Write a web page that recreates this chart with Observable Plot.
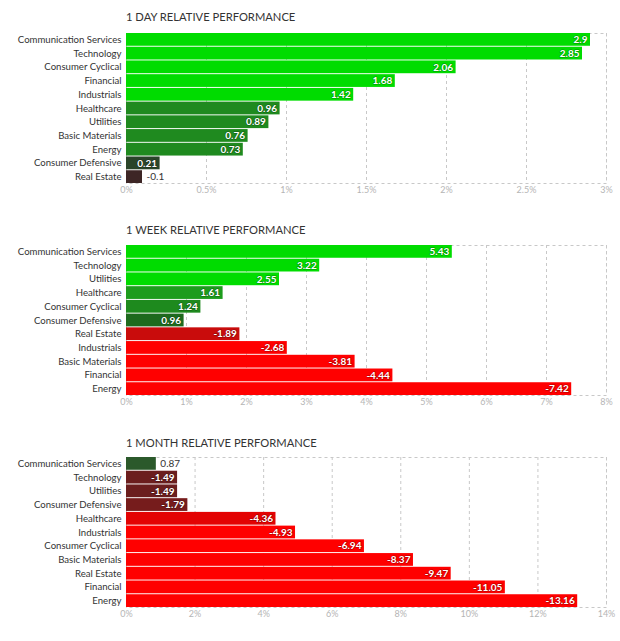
<!DOCTYPE html>
<html><head><meta charset="utf-8">
<script src="https://cdn.jsdelivr.net/npm/d3@7"></script>
<script src="https://cdn.jsdelivr.net/npm/@observablehq/plot@0.6"></script>
<style>
body{margin:0;background:#fff;font-family:Lato,sans-serif;}
#root{position:relative;width:620px;height:641px;overflow:hidden;}
.title{position:absolute;left:126px;font-family:Lato,sans-serif;font-size:11.2px;line-height:13px;color:#333;white-space:nowrap;}
.panel{position:absolute;left:0;}
.panel svg{display:block;}
</style></head><body><div id="root"></div>
<script>
// ---- data ----
const dayTitle = "1 DAY RELATIVE PERFORMANCE";
const daySectors = ["Communication Services","Technology","Consumer Cyclical","Financial","Industrials","Healthcare","Utilities","Basic Materials","Energy","Consumer Defensive","Real Estate"];
const dayValues = [2.9, 2.85, 2.06, 1.68, 1.42, 0.96, 0.89, 0.76, 0.73, 0.21, -0.1];
const dayTicks = [0, 0.5, 1, 1.5, 2, 2.5, 3];

const weekTitle = "1 WEEK RELATIVE PERFORMANCE";
const weekSectors = ["Communication Services","Technology","Utilities","Healthcare","Consumer Cyclical","Consumer Defensive","Real Estate","Industrials","Basic Materials","Financial","Energy"];
const weekValues = [5.43, 3.22, 2.55, 1.61, 1.24, 0.96, -1.89, -2.68, -3.81, -4.44, -7.42];
const weekTicks = [0, 1, 2, 3, 4, 5, 6, 7, 8];

const monthTitle = "1 MONTH RELATIVE PERFORMANCE";
const monthSectors = ["Communication Services","Technology","Utilities","Consumer Defensive","Healthcare","Industrials","Consumer Cyclical","Basic Materials","Real Estate","Financial","Energy"];
const monthValues = [0.87, -1.49, -1.49, -1.79, -4.36, -4.93, -6.94, -8.37, -9.47, -11.05, -13.16];
const monthTicks = [0, 2, 4, 6, 8, 10, 12, 14];

// colour ramps (value -> colour) per timeframe
const dayColorDomain = [-1, -0.1, 0, 0.21, 0.7, 1.0, 1.4];
const dayColorRange  = ["#ff0000", "#3d2626", "#333333", "#2a452a", "#1f8a1f", "#1f8a1f", "#00dc00"];
const weekColorDomain = [-2.6, -1.89, 0, 0.96, 1.24, 1.61, 2.5];
const weekColorRange  = ["#ff0000", "#c90c0c", "#333333", "#1e6a1e", "#1e8a1e", "#1d9c1d", "#00dc00"];
const monthColorDomain = [-4.9, -4.36, -1.79, -1.49, 0, 0.87, 2.5];
const monthColorRange  = ["#ff0000", "#e30303", "#761c1c", "#6b1e1e", "#333333", "#2b592b", "#00dc00"];

const panels = [
  {title: dayTitle, sectors: daySectors, values: dayValues, ticks: dayTicks, cd: dayColorDomain, cr: dayColorRange, top: 32, titleTop: 10},
  {title: weekTitle, sectors: weekSectors, values: weekValues, ticks: weekTicks, cd: weekColorDomain, cr: weekColorRange, top: 244, titleTop: 223},
  {title: monthTitle, sectors: monthSectors, values: monthValues, ticks: monthTicks, cd: monthColorDomain, cr: monthColorRange, top: 456, titleTop: 436}
];

const root = document.getElementById("root");
const W = 620, ML = 126, MR = 14, MT = 1, MB = 18, PH = 150;

for (const p of panels) {
  const data = p.sectors.map((s, i) => ({sector: s, value: p.values[i], abs: Math.abs(p.values[i])}));
  const xmax = p.ticks[p.ticks.length - 1];
  const pxw = d => d.abs / xmax * (W - ML - MR);
  const inside = data.filter(d => pxw(d) > 32);
  const outside = data.filter(d => pxw(d) <= 32);

  const t = document.createElement("div");
  t.className = "title";
  t.style.top = p.titleTop + "px";
  t.textContent = p.title;
  root.appendChild(t);

  const chart = Plot.plot({
    width: W, height: MT + PH + MB,
    marginLeft: ML, marginRight: MR, marginTop: MT, marginBottom: MB,
    style: {fontFamily: "Lato, sans-serif", fontSize: "10px", background: "white"},
    x: {domain: [0, xmax]},
    y: {domain: p.sectors, paddingInner: 0.07, paddingOuter: 0, round: false},
    color: {type: "linear", domain: p.cd, range: p.cr, clamp: true, interpolate: "rgb"},
    marks: [
      Plot.gridX(p.ticks, {stroke: "#c8c8c8", strokeOpacity: 1, strokeDasharray: "3,3"}),
      Plot.frame({stroke: "#c8c8c8", strokeDasharray: "3,3"}),
      Plot.barX(data, {x: "abs", y: "sector", fill: "value"}),
      Plot.text(inside, {x: "abs", y: "sector", text: d => String(d.value), textAnchor: "end", dx: -3,
        fill: "white", fontWeight: "bold", fontSize: 10, stroke: "#000", strokeOpacity: 0.25, strokeWidth: 1.5}),
      Plot.text(outside, {x: "abs", y: "sector", text: d => String(d.value), textAnchor: "start", dx: 4,
        fill: "#333", fontSize: 10}),
      Plot.axisX({ticks: p.ticks, tickFormat: d => d + "%", tickSize: 0, tickPadding: 3, fill: "#b5b5b5", fontSize: 9, label: null}),
      Plot.axisY({tickSize: 0, tickPadding: 5, fill: "#333", fontSize: 9.6, label: null})
    ]
  });
  const wrap = document.createElement("div");
  wrap.className = "panel";
  wrap.style.top = p.top + "px";
  wrap.appendChild(chart);
  root.appendChild(wrap);
}
</script>
</body></html>
